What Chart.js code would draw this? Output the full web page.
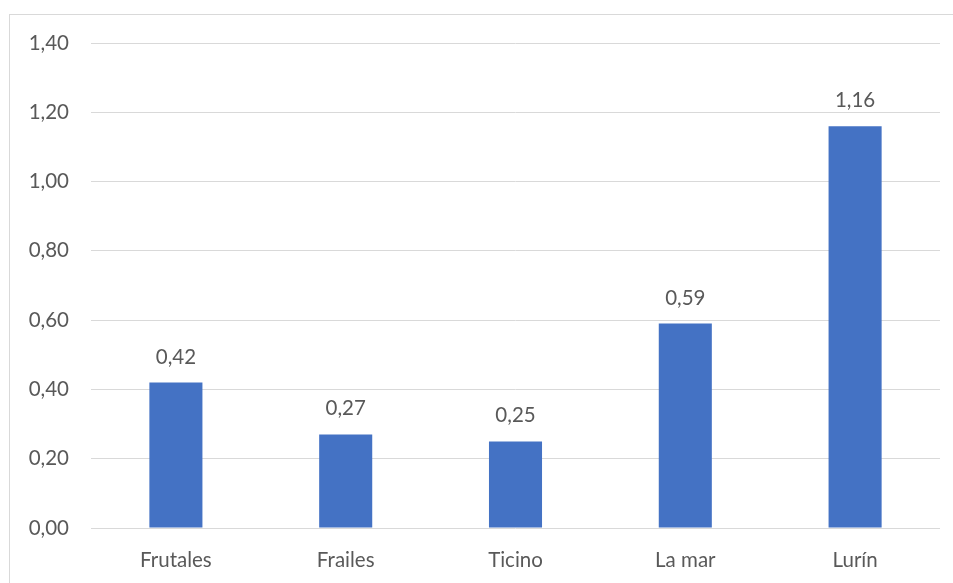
<!DOCTYPE html>
<html>
<head>
<meta charset="utf-8">
<script src="https://cdn.jsdelivr.net/npm/chart.js@4"></script>
<style>
  html, body { margin: 0; padding: 0; background: #fff; overflow: hidden; }
  #wrap { position: relative; width: 953px; height: 583px; }
  #frame { position: absolute; left: 9px; top: 14px; width: 1000px; height: 700px;
           border: 1px solid #d9d9d9; box-sizing: border-box; }
  canvas { position: absolute; left: 0; top: 0; }
</style>
</head>
<body>
<div id="wrap">
  <div id="frame"></div>
  <canvas id="c" width="953" height="583"></canvas>
</div>
<script>
const categories = ['Frutales', 'Frailes', 'Ticino', 'La mar', 'Lurín'];
const values = [0.42, 0.27, 0.25, 0.59, 1.16];
const yTicks = [0, 0.2, 0.4, 0.6, 0.8, 1.0, 1.2, 1.4];

const FONT = 'Lato, "Open Sans", sans-serif';
const SIZE = 20.5;
const TEXT = '#595959';
const fmt = v => v.toFixed(2).replace('.', ',');

const valueLabels = {
  id: 'valueLabels',
  afterDatasetsDraw(chart) {
    const ctx = chart.ctx;
    const meta = chart.getDatasetMeta(0);
    ctx.save();
    ctx.font = SIZE + 'px ' + FONT;
    ctx.fillStyle = TEXT;
    ctx.textAlign = 'center';
    ctx.textBaseline = 'alphabetic';
    meta.data.forEach((bar, i) => {
      ctx.fillText(fmt(values[i]), bar.x, bar.y - 19);
    });
    ctx.restore();
  }
};

new Chart(document.getElementById('c'), {
  type: 'bar',
  data: {
    labels: categories,
    datasets: [{
      data: values,
      backgroundColor: '#4472C4',
      borderWidth: 0,
      barPercentage: 0.625,
      categoryPercentage: 0.5
    }]
  },
  options: {
    responsive: false,
    animation: false,
    events: [],
    layout: { padding: { top: 43, right: 13, left: 0, bottom: 0 } },
    plugins: { legend: { display: false }, tooltip: { enabled: false } },
    scales: {
      x: {
        grid: { display: false, drawTicks: false },
        border: { display: false },
        ticks: { color: TEXT, font: { family: FONT, size: SIZE }, padding: 20 },
        afterFit(scale) { scale.height = 55; }
      },
      y: {
        min: 0, max: 1.4,
        afterBuildTicks(scale) { scale.ticks = yTicks.map(v => ({ value: v })); },
        grid: { color: '#d9d9d9', lineWidth: 1, drawTicks: false },
        border: { display: false },
        ticks: { color: TEXT, font: { family: FONT, size: SIZE }, padding: 22,
                 callback: v => fmt(v) },
        afterFit(scale) { scale.width = 91; }
      }
    }
  },
  plugins: [valueLabels]
});
</script>
</body>
</html>
